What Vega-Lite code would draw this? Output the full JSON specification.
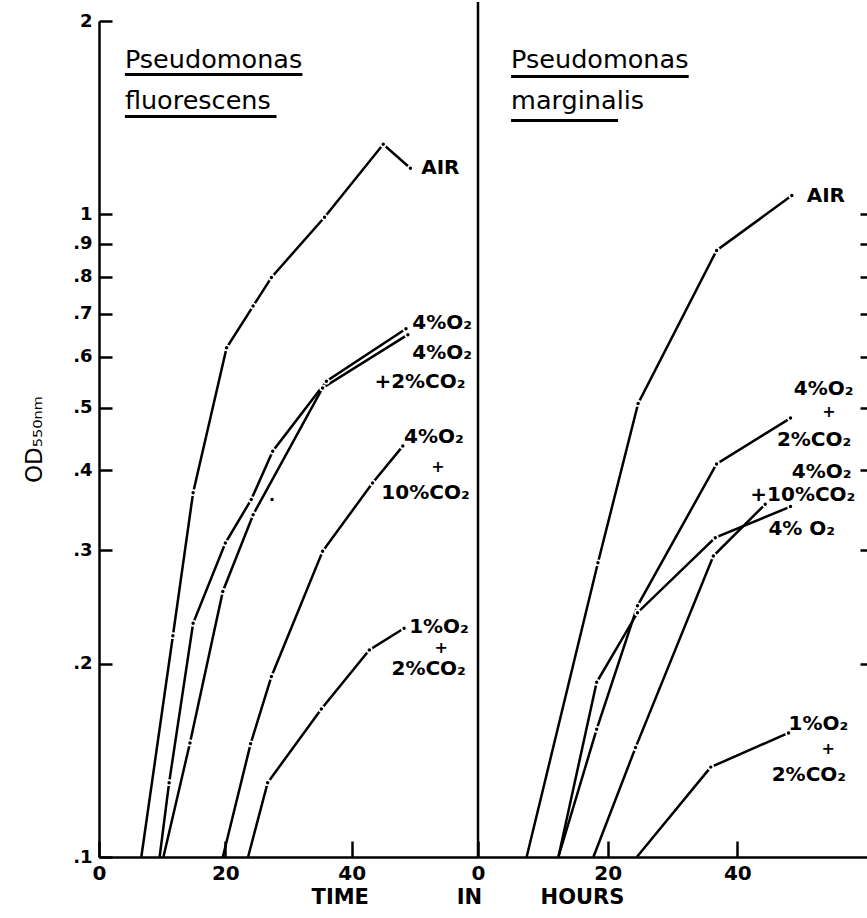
{
  "$schema": "https://vega.github.io/schema/vega-lite/v6.json",
  "background": "white",
  "padding": {"left": 23, "top": 0, "right": 0, "bottom": 3},
  "spacing": 0,
  "bounds": "flush",
  "title": {"text": "TIME\u00a0\u00a0\u00a0\u00a0\u00a0\u00a0\u00a0\u00a0\u00a0\u00a0\u00a0\u00a0IN\u00a0\u00a0\u00a0\u00a0\u00a0\u00a0\u00a0\u00a0HOURS", "orient": "bottom", "anchor": "middle", "dx": 22, "fontSize": 21, "font": "DejaVu Sans", "fontWeight": "bold", "color": "black", "offset": 4},
  "datasets": {
    "curves": [
      {"panel": "F", "series": "AIR", "t": 6.7, "od": 0.1},
      {"panel": "F", "series": "AIR", "t": 11.7, "od": 0.221},
      {"panel": "F", "series": "AIR", "t": 14.9, "od": 0.369},
      {"panel": "F", "series": "AIR", "t": 20.2, "od": 0.62},
      {"panel": "F", "series": "AIR", "t": 24.4, "od": 0.72},
      {"panel": "F", "series": "AIR", "t": 27.3, "od": 0.798},
      {"panel": "F", "series": "AIR", "t": 35.7, "od": 0.99},
      {"panel": "F", "series": "AIR", "t": 45.0, "od": 1.286},
      {"panel": "F", "series": "AIR", "t": 49.3, "od": 1.18},
      {"panel": "F", "series": "4%O2", "t": 9.6, "od": 0.1},
      {"panel": "F", "series": "4%O2", "t": 11.1, "od": 0.1305},
      {"panel": "F", "series": "4%O2", "t": 14.9, "od": 0.231},
      {"panel": "F", "series": "4%O2", "t": 20.0, "od": 0.308},
      {"panel": "F", "series": "4%O2", "t": 24.1, "od": 0.36},
      {"panel": "F", "series": "4%O2", "t": 27.5, "od": 0.428},
      {"panel": "F", "series": "4%O2", "t": 36.0, "od": 0.55},
      {"panel": "F", "series": "4%O2", "t": 48.6, "od": 0.664},
      {"panel": "F", "series": "4%O2+2%CO2", "t": 10.2, "od": 0.1},
      {"panel": "F", "series": "4%O2+2%CO2", "t": 14.4, "od": 0.1505},
      {"panel": "F", "series": "4%O2+2%CO2", "t": 19.6, "od": 0.259},
      {"panel": "F", "series": "4%O2+2%CO2", "t": 24.4, "od": 0.341},
      {"panel": "F", "series": "4%O2+2%CO2", "t": 35.4, "od": 0.537},
      {"panel": "F", "series": "4%O2+2%CO2", "t": 48.9, "od": 0.65},
      {"panel": "F", "series": "single", "t": 27.4, "od": 0.36},
      {"panel": "F", "series": "4%O2+10%CO2", "t": 19.6, "od": 0.1},
      {"panel": "F", "series": "4%O2+10%CO2", "t": 24.0, "od": 0.15},
      {"panel": "F", "series": "4%O2+10%CO2", "t": 27.3, "od": 0.191},
      {"panel": "F", "series": "4%O2+10%CO2", "t": 35.4, "od": 0.299},
      {"panel": "F", "series": "4%O2+10%CO2", "t": 43.3, "od": 0.382},
      {"panel": "F", "series": "4%O2+10%CO2", "t": 48.1, "od": 0.436},
      {"panel": "F", "series": "1%O2+2%CO2", "t": 23.6, "od": 0.1},
      {"panel": "F", "series": "1%O2+2%CO2", "t": 26.7, "od": 0.1305},
      {"panel": "F", "series": "1%O2+2%CO2", "t": 35.2, "od": 0.17},
      {"panel": "F", "series": "1%O2+2%CO2", "t": 42.8, "od": 0.21},
      {"panel": "F", "series": "1%O2+2%CO2", "t": 48.3, "od": 0.227},
      {"panel": "M", "series": "AIR", "t": 7.5, "od": 0.1},
      {"panel": "M", "series": "AIR", "t": 18.5, "od": 0.287},
      {"panel": "M", "series": "AIR", "t": 24.7, "od": 0.508},
      {"panel": "M", "series": "AIR", "t": 36.8, "od": 0.879},
      {"panel": "M", "series": "AIR", "t": 48.4, "od": 1.07},
      {"panel": "M", "series": "4%O2+2%CO2", "t": 12.4, "od": 0.1},
      {"panel": "M", "series": "4%O2+2%CO2", "t": 18.3, "od": 0.158},
      {"panel": "M", "series": "4%O2+2%CO2", "t": 24.6, "od": 0.246},
      {"panel": "M", "series": "4%O2+2%CO2", "t": 36.8, "od": 0.409},
      {"panel": "M", "series": "4%O2+2%CO2", "t": 48.2, "od": 0.482},
      {"panel": "M", "series": "4%O2", "t": 12.4, "od": 0.1},
      {"panel": "M", "series": "4%O2", "t": 18.3, "od": 0.187},
      {"panel": "M", "series": "4%O2", "t": 24.6, "od": 0.24},
      {"panel": "M", "series": "4%O2", "t": 36.6, "od": 0.314},
      {"panel": "M", "series": "4%O2", "t": 48.2, "od": 0.351},
      {"panel": "M", "series": "4%O2+10%CO2", "t": 17.8, "od": 0.1},
      {"panel": "M", "series": "4%O2+10%CO2", "t": 24.3, "od": 0.148},
      {"panel": "M", "series": "4%O2+10%CO2", "t": 36.3, "od": 0.294},
      {"panel": "M", "series": "4%O2+10%CO2", "t": 44.3, "od": 0.354},
      {"panel": "M", "series": "1%O2+2%CO2", "t": 24.5, "od": 0.1},
      {"panel": "M", "series": "1%O2+2%CO2", "t": 35.9, "od": 0.138},
      {"panel": "M", "series": "1%O2+2%CO2", "t": 47.9, "od": 0.156}
    ],
    "labels": [
      {"panel": "F", "text": "AIR", "t": 51.0, "od": 1.18},
      {"panel": "F", "text": "4%O₂", "t": 49.6, "od": 0.677},
      {"panel": "F", "text": "4%O₂", "t": 49.6, "od": 0.608},
      {"panel": "F", "text": "+2%CO₂", "t": 43.6, "od": 0.548},
      {"panel": "F", "text": "4%O₂", "t": 48.3, "od": 0.45},
      {"panel": "F", "text": "+", "t": 52.6, "od": 0.405},
      {"panel": "F", "text": "10%CO₂", "t": 44.7, "od": 0.368},
      {"panel": "F", "text": "1%O₂", "t": 49.1, "od": 0.228},
      {"panel": "F", "text": "+", "t": 53.1, "od": 0.2115},
      {"panel": "F", "text": "2%CO₂", "t": 46.3, "od": 0.196},
      {"panel": "M", "text": "AIR", "t": 50.7, "od": 1.067},
      {"panel": "M", "text": "4%O₂", "t": 48.7, "od": 0.535},
      {"panel": "M", "text": "+", "t": 53.1, "od": 0.492},
      {"panel": "M", "text": "2%CO₂", "t": 46.1, "od": 0.446},
      {"panel": "M", "text": "4%O₂", "t": 48.4, "od": 0.398},
      {"panel": "M", "text": "+10%CO₂", "t": 42.0, "od": 0.366},
      {"panel": "M", "text": "4% O₂", "t": 44.8, "od": 0.324},
      {"panel": "M", "text": "1%O₂", "t": 47.9, "od": 0.161},
      {"panel": "M", "text": "+", "t": 53.0, "od": 0.1475},
      {"panel": "M", "text": "2%CO₂", "t": 45.3, "od": 0.134}
    ],
    "titles": [
      {"panel": "F", "text": "Pseudomonas", "t": 4.1, "od": 1.742},
      {"panel": "F", "text": "fluorescens", "t": 4.1, "od": 1.499},
      {"panel": "M", "text": "Pseudomonas", "t": 5.1, "od": 1.742},
      {"panel": "M", "text": "marginalis", "t": 5.1, "od": 1.499}
    ],
    "underlines": [
      {"panel": "F", "t": 4.1, "t2": 32.2, "od": 1.651},
      {"panel": "F", "t": 4.1, "t2": 28.1, "od": 1.42},
      {"panel": "M", "t": 5.1, "t2": 32.5, "od": 1.64},
      {"panel": "M", "t": 5.1, "t2": 21.6, "od": 1.40}
    ]
  },
  "hconcat": [
    {
      "width": 379,
      "height": 836,
      "layer": [
        {
          "data": {"name": "curves"},
          "transform": [{"filter": "datum.panel == 'F'"}],
          "mark": {"type": "line", "stroke": "black", "strokeWidth": 2.5},
          "encoding": {
            "x": {"field": "t", "type": "quantitative", "scale": {"domain": [0, 60], "nice": false},
                  "axis": {"values": [0, 20, 40], "title": null, "tickSize": -16, "labelPadding": 22, "labelFlush": false, "format": "d"}},
            "y": {"field": "od", "type": "quantitative", "scale": {"type": "log", "domain": [0.1, 2], "nice": false},
                  "axis": {"orient": "left", "values": [0.1, 0.2, 0.3, 0.4, 0.5, 0.6, 0.7, 0.8, 0.9, 1, 2],
                           "labelExpr": "datum.value >= 1 ? toString(datum.value) : '.' + toString(round(datum.value * 10))",
                           "title": "OD₅₅₀ₙₘ", "tickSize": -13, "labelPadding": 20, "titlePadding": 26,
                           "titleFontSize": 23, "titleFontWeight": "normal", "labelFontSize": 18}},
            "detail": {"field": "series"}
          }
        },
        {
          "data": {"name": "curves"},
          "transform": [{"filter": "datum.panel == 'F' && datum.od > 0.1"}],
          "mark": {"type": "point", "filled": true, "color": "white", "opacity": 1, "size": 45},
          "encoding": {"x": {"field": "t", "type": "quantitative"}, "y": {"field": "od", "type": "quantitative"}}
        },
        {
          "data": {"name": "curves"},
          "transform": [{"filter": "datum.panel == 'F' && datum.od > 0.1"}],
          "mark": {"type": "point", "filled": true, "color": "black", "opacity": 1, "size": 12},
          "encoding": {"x": {"field": "t", "type": "quantitative"}, "y": {"field": "od", "type": "quantitative"}}
        },
        {
          "data": {"name": "labels"},
          "transform": [{"filter": "datum.panel == 'F' && datum.text != '+'"}],
          "mark": {"type": "text", "align": "left", "baseline": "middle", "font": "DejaVu Sans", "fontWeight": "bold", "fontSize": 20, "color": "black"},
          "encoding": {"x": {"field": "t", "type": "quantitative"}, "y": {"field": "od", "type": "quantitative"}, "text": {"field": "text"}}
        },
        {
          "data": {"name": "labels"},
          "transform": [{"filter": "datum.panel == 'F' && datum.text == '+'"}],
          "mark": {"type": "text", "align": "left", "baseline": "middle", "font": "DejaVu Sans", "fontWeight": "bold", "fontSize": 16, "color": "black"},
          "encoding": {"x": {"field": "t", "type": "quantitative"}, "y": {"field": "od", "type": "quantitative"}, "text": {"field": "text"}}
        },
        {
          "data": {"name": "titles"},
          "transform": [{"filter": "datum.panel == 'F'"}],
          "mark": {"type": "text", "align": "left", "baseline": "middle", "font": "DejaVu Sans", "fontSize": 25.5, "color": "black"},
          "encoding": {"x": {"field": "t", "type": "quantitative"}, "y": {"field": "od", "type": "quantitative"}, "text": {"field": "text"}}
        },
        {
          "data": {"name": "underlines"},
          "transform": [{"filter": "datum.panel == 'F'"}],
          "mark": {"type": "rule", "stroke": "black", "strokeWidth": 3},
          "encoding": {"x": {"field": "t", "type": "quantitative"}, "x2": {"field": "t2"}, "y": {"field": "od", "type": "quantitative"}}
        },
        {
          "data": {"values": [{}]},
          "mark": {"type": "rule", "stroke": "black", "strokeWidth": 2.5},
          "encoding": {"x": {"datum": 60}, "y": {"datum": 0.1}, "y2": {"datum": 2.14}}
        }
      ]
    },
    {
      "width": 389,
      "height": 836,
      "layer": [
        {
          "data": {"name": "curves"},
          "transform": [{"filter": "datum.panel == 'M'"}],
          "mark": {"type": "line", "stroke": "black", "strokeWidth": 2.5},
          "encoding": {
            "x": {"field": "t", "type": "quantitative", "scale": {"domain": [0, 60], "nice": false},
                  "axis": {"values": [0, 20, 40], "title": null, "tickSize": -16, "labelPadding": 22, "labelFlush": false, "format": "d"}},
            "y": {"field": "od", "type": "quantitative", "scale": {"type": "log", "domain": [0.1, 2], "nice": false},
                  "axis": {"orient": "right", "values": [0.2, 0.3, 0.4, 0.5, 0.6, 0.7, 0.8, 0.9, 1], "labels": false,
                           "title": null, "tickSize": -7, "domain": false}},
            "detail": {"field": "series"}
          }
        },
        {
          "data": {"name": "curves"},
          "transform": [{"filter": "datum.panel == 'M' && datum.od > 0.1"}],
          "mark": {"type": "point", "filled": true, "color": "white", "opacity": 1, "size": 45},
          "encoding": {"x": {"field": "t", "type": "quantitative"}, "y": {"field": "od", "type": "quantitative"}}
        },
        {
          "data": {"name": "curves"},
          "transform": [{"filter": "datum.panel == 'M' && datum.od > 0.1"}],
          "mark": {"type": "point", "filled": true, "color": "black", "opacity": 1, "size": 12},
          "encoding": {"x": {"field": "t", "type": "quantitative"}, "y": {"field": "od", "type": "quantitative"}}
        },
        {
          "data": {"name": "labels"},
          "transform": [{"filter": "datum.panel == 'M' && datum.text != '+'"}],
          "mark": {"type": "text", "align": "left", "baseline": "middle", "font": "DejaVu Sans", "fontWeight": "bold", "fontSize": 20, "color": "black"},
          "encoding": {"x": {"field": "t", "type": "quantitative"}, "y": {"field": "od", "type": "quantitative"}, "text": {"field": "text"}}
        },
        {
          "data": {"name": "labels"},
          "transform": [{"filter": "datum.panel == 'M' && datum.text == '+'"}],
          "mark": {"type": "text", "align": "left", "baseline": "middle", "font": "DejaVu Sans", "fontWeight": "bold", "fontSize": 16, "color": "black"},
          "encoding": {"x": {"field": "t", "type": "quantitative"}, "y": {"field": "od", "type": "quantitative"}, "text": {"field": "text"}}
        },
        {
          "data": {"name": "titles"},
          "transform": [{"filter": "datum.panel == 'M'"}],
          "mark": {"type": "text", "align": "left", "baseline": "middle", "font": "DejaVu Sans", "fontSize": 25.5, "color": "black"},
          "encoding": {"x": {"field": "t", "type": "quantitative"}, "y": {"field": "od", "type": "quantitative"}, "text": {"field": "text"}}
        },
        {
          "data": {"name": "underlines"},
          "transform": [{"filter": "datum.panel == 'M'"}],
          "mark": {"type": "rule", "stroke": "black", "strokeWidth": 3},
          "encoding": {"x": {"field": "t", "type": "quantitative"}, "x2": {"field": "t2"}, "y": {"field": "od", "type": "quantitative"}}
        }
      ]
    }
  ],
  "config": {
    "view": {"stroke": null},
    "font": "DejaVu Sans",
    "axis": {
      "grid": false,
      "domainColor": "black", "domainWidth": 2.5,
      "tickColor": "black", "tickWidth": 2.5,
      "labelColor": "black", "labelFont": "DejaVu Sans", "labelFontWeight": "bold", "labelFontSize": 20,
      "titleColor": "black", "titleFont": "DejaVu Sans"
    }
  }
}
